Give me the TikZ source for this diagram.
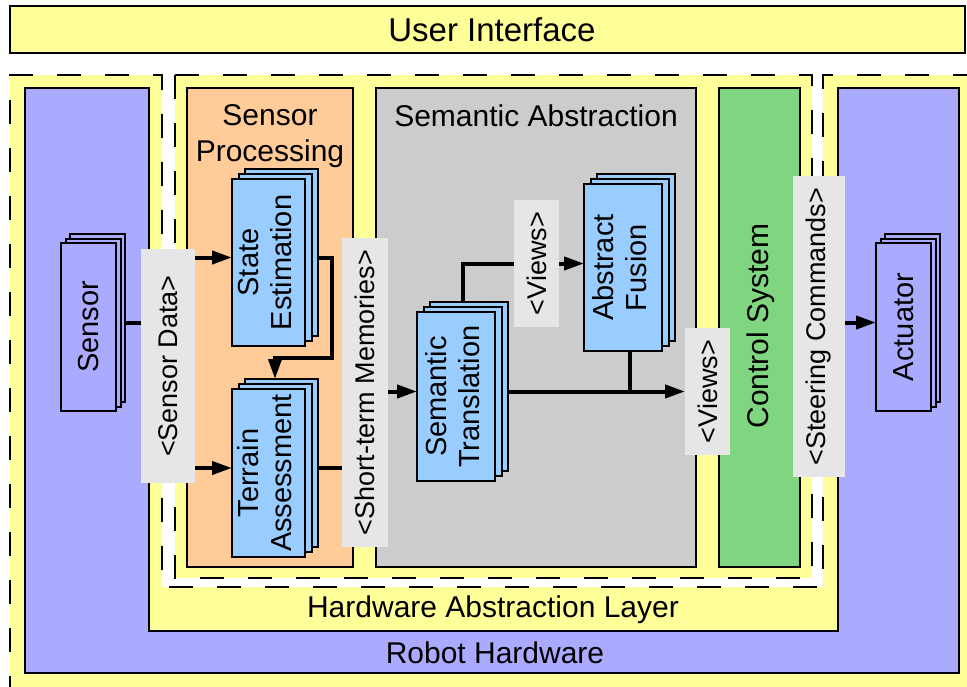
\documentclass[tikz,border=0pt]{standalone}
\usepackage{fontspec}
\setmainfont{Liberation Sans}
\usetikzlibrary{arrows.meta,shadows}

\definecolor{zoneyellow}{HTML}{FFFF99}
\definecolor{hwblue}{HTML}{AAAAFF}
\definecolor{modblue}{HTML}{99CCFF}
\definecolor{procorange}{HTML}{FFCC99}
\definecolor{absgray}{HTML}{CCCCCC}
\definecolor{ctrlgreen}{RGB}{128,214,128}
\definecolor{tagfill}{HTML}{E6E6E6}

\newcommand{\uifont}{\fontsize{33}{38}\selectfont}
\newcommand{\areafont}{\fontsize{30}{36}\selectfont}
\newcommand{\modfont}{\fontsize{29}{33}\selectfont}
\newcommand{\tagfont}{\fontsize{27}{32}\selectfont}
\newcommand{\twolines}[1]{\begin{tabular}{@{}c@{}}#1\end{tabular}}

\pgfdeclarelayer{regions}
\pgfdeclarelayer{wires}
\pgfsetlayers{regions,wires,main}

\tikzset{
  zone/.style={fill=zoneyellow, draw=black, line width=2.5pt, dash pattern=on 24pt off 24pt},
  panel/.style={draw=black, line width=2pt, inner sep=0pt, outer sep=0pt},
  module/.style={panel, fill=modblue, font=\modfont,
    double copy shadow={shadow xshift=6.5pt, shadow yshift=5pt}},
  device/.style={panel, fill=hwblue, font=\modfont,
    double copy shadow={shadow xshift=4.5pt, shadow yshift=4.5pt}},
  tag/.style={fill=tagfill, inner sep=0pt, outer sep=0pt, font=\tagfont},
  wire/.style={line width=4pt, draw=black},
  flow/.style={wire, -{Triangle[length=20pt,width=13pt]}},
}

\begin{document}
\begin{tikzpicture}[x=1pt,y=-1pt]
\useasboundingbox (0,0) rectangle (967,686);

% ---------- background areas ----------
\begin{pgfonlayer}{regions}
  % hardware side and software side, separated by a white gap
  \path[zone] (10,700) -- (10,75) -- (162,75) -- (162,587) -- (823,587)
              -- (823,75) -- (990,75) -- (990,700) -- cycle;
  \path[zone] (175,75) rectangle (812,578);
  % robot hardware frame around the abstraction layer
  \path[panel, fill=hwblue] (25,88) -- (149,88) -- (149,631) -- (838,631)
              -- (838,88) -- (959,88) -- (959,673) -- (25,673) -- cycle;
  % software components
  \node[panel, fill=procorange, minimum width=166pt, minimum height=479pt] (proc) at (270,327.5) {};
  \node[panel, fill=absgray, minimum width=320pt, minimum height=479pt] (abs) at (536,327.5) {};
  \node[panel, fill=ctrlgreen, minimum width=81pt, minimum height=479pt] (ctrl) at (759.5,327.5) {};
  % user interface bar
  \node[panel, fill=zoneyellow, minimum width=955pt, minimum height=47pt] (ui) at (487.5,29.5) {};
\end{pgfonlayer}

% ---------- titles ----------
\node[font=\uifont, anchor=base, inner sep=0pt] (uititle) at (492,41) {User Interface};
\node[font=\areafont, align=center, anchor=north, inner sep=0pt] (proctitle) at (270,104) {Sensor\\Processing};
\node[font=\areafont, anchor=base, inner sep=0pt] (abstitle) at (536,126) {Semantic Abstraction};
\node[font=\areafont, rotate=90, inner sep=0pt] (ctrltitle) at (761,326) {Control System};
\node[font=\areafont, anchor=base, inner sep=0pt] (haltitle) at (493,617) {Hardware Abstraction Layer};
\node[font=\areafont, anchor=base, inner sep=0pt] (hwtitle) at (495,663) {Robot Hardware};

% ---------- stacked components ----------
\node[device, minimum width=55pt, minimum height=168pt] (sensor) at (88.5,327) {\rotatebox{90}{Sensor}};
\node[device, minimum width=55pt, minimum height=168pt] (actuator) at (903.5,327) {\rotatebox{90}{Actuator}};
\node[module, minimum width=73pt, minimum height=167pt] (state) at (268.5,262.5)
  {\rotatebox{90}{\twolines{State\\Estimation}}};
\node[module, minimum width=73pt, minimum height=168pt] (terrain) at (268.5,473)
  {\rotatebox{90}{\twolines{Terrain\\Assessment}}};
\node[module, minimum width=78pt, minimum height=169pt] (transl) at (456,396.5)
  {\rotatebox{90}{\twolines{Semantic\\Translation}}};
\node[module, minimum width=78pt, minimum height=167pt] (fusion) at (623,267.5)
  {\rotatebox{90}{\twolines{Abstract\\Fusion}}};

% ---------- interface tags ----------
\node[tag, minimum width=54pt, minimum height=234pt] (sdata) at (168,366) {\rotatebox{90}{<Sensor Data>}};
\node[tag, minimum width=46pt, minimum height=309pt] (memo) at (365,392.5) {\rotatebox{90}{<Short-term Memories>}};
\node[tag, minimum width=45pt, minimum height=127pt] (viewsA) at (536.5,263.5) {\rotatebox{90}{<Views>}};
\node[tag, minimum width=45pt, minimum height=127pt] (viewsB) at (707.5,391.5) {\rotatebox{90}{<Views>}};
\node[tag, minimum width=52pt, minimum height=301pt] (steer) at (819,326.5) {\rotatebox{90}{<Steering Commands>}};

% ---------- data flow ----------
\begin{pgfonlayer}{wires}
  \draw[wire] ([yshift=4.5pt]sensor.east) -- ([yshift=4.5pt]sensor.east -| sdata.west);
  \draw[flow] ([yshift=5pt]state.west -| sdata.east) -- ([yshift=5pt]state.west);
  \draw[flow] ([yshift=5pt]terrain.west -| sdata.east) -- ([yshift=5pt]terrain.west);
  \draw[flow] ([yshift=5pt]state.east) -- ++(27,0)
     |- ([shift={(6.5pt,31pt)}]terrain.north) -- ([shift={(6.5pt,10pt)}]terrain.north);
  \draw[wire] ([yshift=5pt]terrain.east) -- ([yshift=5pt]terrain.east -| memo.west);
  \draw[flow] ([yshift=5pt]transl.west -| memo.east) -- ([yshift=5pt]transl.west);
  \draw[wire] ([shift={(6.5pt,10pt)}]transl.north) |- (viewsA.west);
  \draw[flow] (viewsA.east) -- (viewsA.east -| fusion.west);
  \draw[flow] ([yshift=5pt]transl.east) -- ([yshift=5pt]transl.east -| viewsB.west);
  \draw[wire] ([xshift=6.5pt]fusion.south) -- ([xshift=6.5pt]fusion.south |- viewsB.west);
  \draw[flow] ([yshift=4.5pt]actuator.west -| steer.east) -- ([yshift=4.5pt]actuator.west);
\end{pgfonlayer}
\end{tikzpicture}
\end{document}
